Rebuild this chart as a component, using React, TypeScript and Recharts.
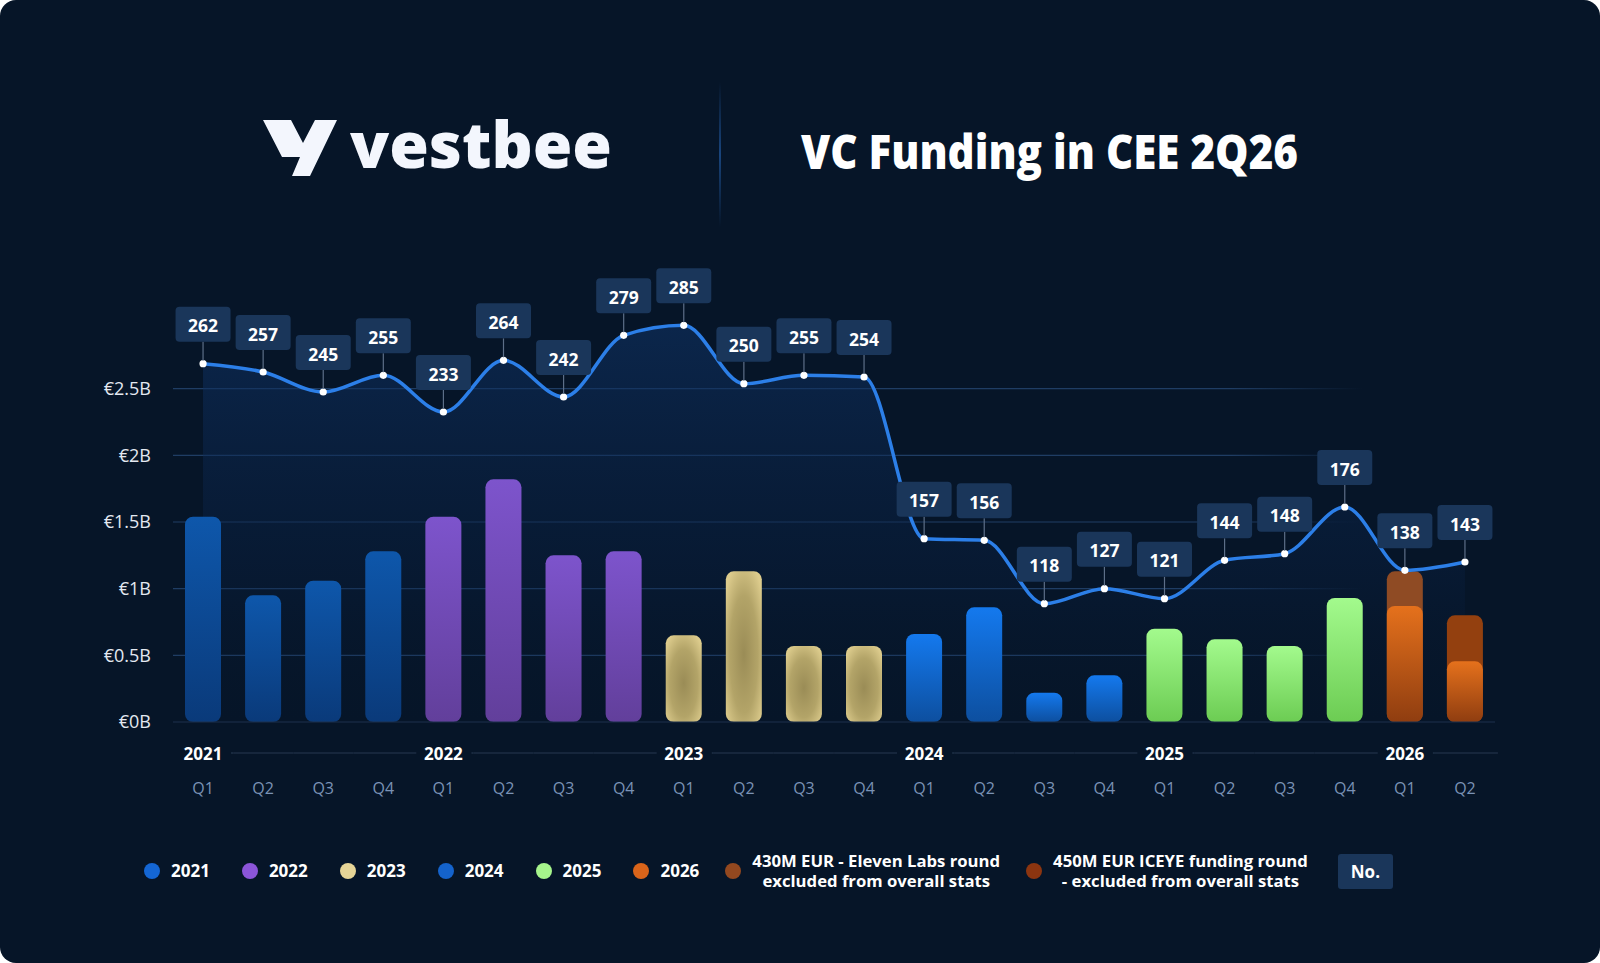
import React from "react";
import {
  ComposedChart,
  Bar,
  Line,
  Area,
  XAxis,
  YAxis,
  CartesianGrid,
  Cell,
  LabelList,
  ReferenceLine,
} from "recharts";

const periods = [
  "2021 Q1", "2021 Q2", "2021 Q3", "2021 Q4",
  "2022 Q1", "2022 Q2", "2022 Q3", "2022 Q4",
  "2023 Q1", "2023 Q2", "2023 Q3", "2023 Q4",
  "2024 Q1", "2024 Q2", "2024 Q3", "2024 Q4",
  "2025 Q1", "2025 Q2", "2025 Q3", "2025 Q4",
  "2026 Q1", "2026 Q2",
];

// funding in billions of EUR
const fundingB = [
  1.54, 0.95, 1.06, 1.28,
  1.54, 1.82, 1.25, 1.28,
  0.65, 1.13, 0.57, 0.57,
  0.66, 0.86, 0.22, 0.35,
  0.7, 0.62, 0.57, 0.93,
  0.87, 0.455,
];

// total including the mega rounds excluded from stats
const fundingWithExcludedB = [
  null, null, null, null,
  null, null, null, null,
  null, null, null, null,
  null, null, null, null,
  null, null, null, null,
  1.13, 0.8,
];

const dealCount = [
  262, 257, 245, 255,
  233, 264, 242, 279,
  285, 250, 255, 254,
  157, 156, 118, 127,
  121, 144, 148, 176,
  138, 143,
];

const yTicks = [0, 0.5, 1, 1.5, 2, 2.5];
const gridValues = [0.5, 1, 1.5, 2, 2.5];

const yearFill: Record<string, string> = {
  "2021": "url(#g2021)",
  "2022": "url(#g2022)",
  "2023": "url(#g2023)",
  "2024": "url(#g2024)",
  "2025": "url(#g2025)",
  "2026": "url(#g2026)",
};
const excludedColors = ["#8f4b24", "#93400f"];

const legendItems = [
  { label: "2021", color: "#1466d4" },
  { label: "2022", color: "#8b55d9" },
  { label: "2023", color: "#e6d597" },
  { label: "2024", color: "#1463cc" },
  { label: "2025", color: "#a6f58c" },
  { label: "2026", color: "#d9641a" },
  { label: "430M EUR - Eleven Labs round\nexcluded from overall stats", color: "#93481f" },
  { label: "450M EUR ICEYE funding round\n- excluded from overall stats", color: "#8c3510" },
];

const data = periods.map((p, i) => ({
  period: p,
  funding: fundingB[i],
  withExcluded: fundingWithExcludedB[i],
  deals: dealCount[i],
}));

const FONT = "'Open Sans', 'Noto Sans', sans-serif";

function PeriodTick(props: any) {
  const { x, y, payload, index } = props;
  const [year, q] = String(payload.value).split(" ");
  const half = 30;
  const rowY = y + 1;
  let x1 = x - half;
  let x2 = x + half;
  if (q === "Q1") x1 = x + 28;
  if (q === "Q4" || index === periods.length - 1) x2 = x + 33;
  return (
    <g fontFamily={FONT}>
      {x2 > x1 && (
        <line x1={x1} x2={x2} y1={rowY} y2={rowY} stroke="#263850" strokeWidth={1.2} />
      )}
      {q === "Q1" && (
        <text x={x} y={rowY} textAnchor="middle" dominantBaseline="central" fill="#ffffff" fontSize={17} fontWeight={700}>
          {year}
        </text>
      )}
      <text x={x} y={rowY + 35} textAnchor="middle" dominantBaseline="central" fill="#7a92b5" fontSize={16}>
        {q}
      </text>
    </g>
  );
}

function CountLabel(props: any) {
  const { x, y, value } = props;
  const w = 55;
  const h = 35;
  const gap = 22;
  const top = y - gap - h;
  return (
    <g>
      <line x1={x} x2={x} y1={top + h} y2={y - 3} stroke="#5d6f88" strokeWidth={1.2} />
      <rect x={x - w / 2} y={top} width={w} height={h} rx={4} fill="#1a365a" />
      <text x={x} y={top + h / 2 + 1} textAnchor="middle" dominantBaseline="central" fill="#ffffff" fontSize={17.5} fontWeight={700} fontFamily={FONT}>
        {value}
      </text>
    </g>
  );
}

function WhiteDot(props: any) {
  const { cx, cy, index } = props;
  return <circle key={`d${index}`} cx={cx} cy={cy} r={3.6} fill="#ffffff" />;
}

function Header() {
  return (
    <svg width={1600} height={240} style={{ position: "absolute", left: 0, top: 0 }}>
      <defs>
        <linearGradient id="divider" x1="0" y1="0" x2="0" y2="1">
          <stop offset="0" stopColor="#1b4a86" stopOpacity={0} />
          <stop offset="0.5" stopColor="#1b4a86" stopOpacity={0.9} />
          <stop offset="1" stopColor="#1b4a86" stopOpacity={0} />
        </linearGradient>
      </defs>
      <polygon
        points="263,120 291,120 303,143 315,120 337,120 310,176 292,176 300,157 282,157"
        fill="#f3f6fd"
      />
      <text x={350} y={168} fill="#f3f6fd" fontSize={64} fontWeight={800} fontFamily={FONT} textLength={262} lengthAdjust="spacingAndGlyphs">
        vestbee
      </text>
      <rect x={719} y={82} width={2} height={145} fill="url(#divider)" />
      <text x={801} y={169} fill="#ffffff" fontSize={48} fontWeight={800} fontFamily={FONT} textLength={497} lengthAdjust="spacingAndGlyphs">
        VC Funding in CEE 2Q26
      </text>
    </svg>
  );
}

function LegendRow() {
  return (
    <div
      style={{
        position: "absolute",
        left: 144,
        top: 849,
        height: 44,
        display: "flex",
        alignItems: "center",
        fontFamily: FONT,
        color: "#ffffff",
        fontWeight: 700,
      }}
    >
      {legendItems.map((it, i) => (
        <div key={it.label} style={{ display: "flex", alignItems: "center", marginRight: i < 5 ? 32 : 26 }}>
          <span style={{ width: 16, height: 16, borderRadius: 8, background: it.color, marginRight: 11, flex: "none" }} />
          <span style={{ fontSize: it.label.includes("\n") ? 16.7 : 17, lineHeight: "20px", whiteSpace: "pre", textAlign: "center" }}>
            {it.label}
          </span>
        </div>
      ))}
      <div
        style={{
          width: 55,
          height: 35,
          marginLeft: 4,
          background: "#1a365a",
          borderRadius: 3,
          display: "flex",
          alignItems: "center",
          justifyContent: "center",
          fontSize: 17,
        }}
      >
        No.
      </div>
    </div>
  );
}

export default function App() {
  return (
    <div
      style={{
        position: "relative",
        width: 1600,
        height: 963,
        background: "#061528",
        borderRadius: 16,
        overflow: "hidden",
      }}
    >
      <style>{`body{margin:0;background:#ffffff}`}</style>
      <Header />
      <div style={{ position: "absolute", left: 0, top: 0 }}>
        <ComposedChart
          width={1600}
          height={963}
          data={data}
          margin={{ top: 322, right: 105, bottom: 161, left: 0 }}
        >
          <defs>
            <linearGradient id="g2021" x1="0" y1="0" x2="0" y2="1">
              <stop offset="0" stopColor="#0e57ab" />
              <stop offset="1" stopColor="#0a3a7a" />
            </linearGradient>
            <linearGradient id="g2022" x1="0" y1="0" x2="0" y2="1">
              <stop offset="0" stopColor="#7d54cc" />
              <stop offset="1" stopColor="#623f9b" />
            </linearGradient>
            <radialGradient id="g2023" cx="0.5" cy="0.55" r="0.65">
              <stop offset="0" stopColor="#9a8c56" />
              <stop offset="0.6" stopColor="#b3a468" />
              <stop offset="1" stopColor="#dccb8c" />
            </radialGradient>
            <linearGradient id="g2024" x1="0" y1="0" x2="0" y2="1">
              <stop offset="0" stopColor="#1479ee" />
              <stop offset="1" stopColor="#0d4f9f" />
            </linearGradient>
            <linearGradient id="g2025" x1="0" y1="0" x2="0" y2="1">
              <stop offset="0" stopColor="#a3fa8d" />
              <stop offset="1" stopColor="#6ccc53" />
            </linearGradient>
            <linearGradient id="g2026" x1="0" y1="0" x2="0" y2="1">
              <stop offset="0" stopColor="#e5711c" />
              <stop offset="1" stopColor="#8f3d10" />
            </linearGradient>
            <linearGradient id="areaFill" x1="0" y1="0" x2="0" y2="1">
              <stop offset="0" stopColor="#0f3366" stopOpacity={0.95} />
              <stop offset="0.6" stopColor="#0a2246" stopOpacity={0.6} />
              <stop offset="1" stopColor="#071a33" stopOpacity={0} />
            </linearGradient>
            <linearGradient id="gridFade" gradientUnits="userSpaceOnUse" x1="173" y1="0" x2="1495" y2="0">
              <stop offset="0" stopColor="#1f3d64" />
              <stop offset="0.8" stopColor="#1f3d64" />
              <stop offset="0.9" stopColor="#1f3d64" stopOpacity={0} />
            </linearGradient>
          </defs>
          <CartesianGrid
            vertical={false}
            horizontalValues={gridValues}
            stroke="url(#gridFade)"
            strokeWidth={1.2}
            xAxisId="main"
            yAxisId="left"
          />
          <XAxis
            xAxisId="main"
            dataKey="period"
            interval={0}
            axisLine={false}
            tickLine={false}
            tickSize={0}
            tickMargin={0}
            height={80}
            tick={<PeriodTick />}
          />
          <XAxis xAxisId="back" dataKey="period" hide />
          <YAxis
            yAxisId="left"
            width={173}
            domain={[0, 3]}
            ticks={yTicks}
            allowDataOverflow
            axisLine={false}
            tickLine={false}
            tickSize={0}
            tickMargin={22}
            tick={{ fill: "#e4e9f1", fontSize: 18, fontFamily: FONT }}
            tickFormatter={(v: number) => `€${v}B`}
          />
          <YAxis yAxisId="right" orientation="right" domain={[47, 287]} allowDataOverflow hide />
          <ReferenceLine xAxisId="main" yAxisId="left" y={0} stroke="#1c304c" strokeWidth={1.2} />
          <Area
            xAxisId="main"
            yAxisId="right"
            type="monotone"
            dataKey="deals"
            stroke="none"
            fill="url(#areaFill)"
            isAnimationActive={false}
          />
          <Bar
            xAxisId="back"
            yAxisId="left"
            dataKey="withExcluded"
            barSize={36}
            radius={8}
            isAnimationActive={false}
          >
            {data.map((d, i) => (
              <Cell key={`x${i}`} fill={excludedColors[i - 20] ?? "transparent"} />
            ))}
          </Bar>
          <Bar
            xAxisId="main"
            yAxisId="left"
            dataKey="funding"
            barSize={36}
            radius={8}
            isAnimationActive={false}
          >
            {data.map((d, i) => (
              <Cell key={`c${i}`} fill={yearFill[d.period.slice(0, 4)]} />
            ))}
          </Bar>
          <Line
            xAxisId="main"
            yAxisId="right"
            type="monotone"
            dataKey="deals"
            stroke="#2c7fe8"
            strokeWidth={3.5}
            dot={<WhiteDot />}
            activeDot={false}
            isAnimationActive={false}
          >
            <LabelList dataKey="deals" content={<CountLabel />} />
          </Line>
        </ComposedChart>
      </div>
      <LegendRow />
    </div>
  );
}
